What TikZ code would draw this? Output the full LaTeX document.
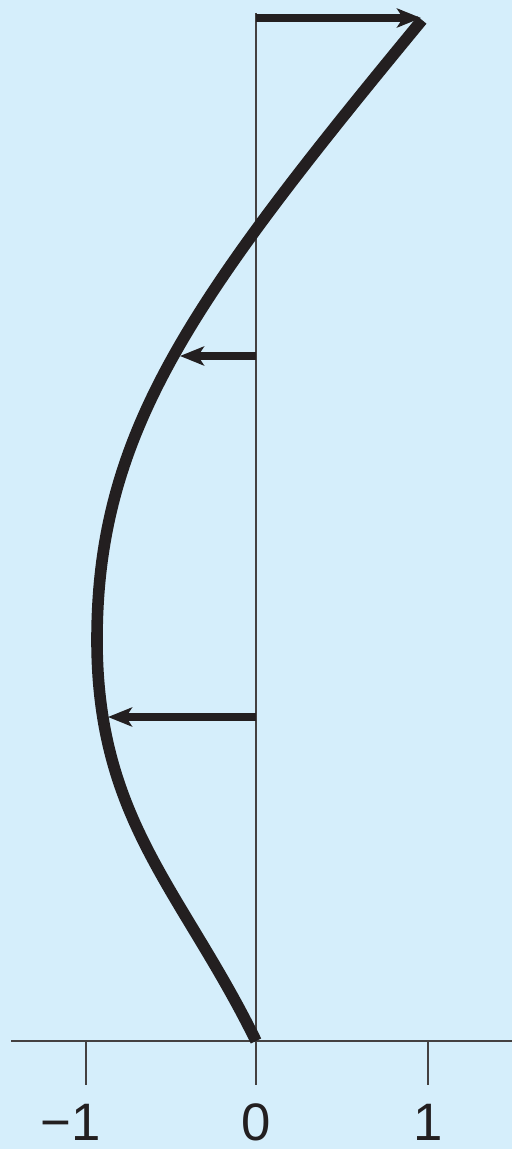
\documentclass[tikz,border=0pt]{standalone}
\usepackage{fontspec}
\setmainfont{Liberation Sans}
\usepackage{xcolor}
\usepackage{tikz}
\usetikzlibrary{arrows.meta}
\definecolor{modebg}{RGB}{213,238,251}
\definecolor{modeink}{RGB}{35,31,32}

\begin{document}
\begin{tikzpicture}[x=0.02cm, y=-0.02cm,
  axisline/.style={line width=1.1pt, color=modeink!85},
  vec/.style={line width=4.6pt, color=modeink, -{Stealth[length=0.48cm, width=0.38cm, inset=0.12cm]}},
  ticklabel/.style={anchor=base, inner sep=0pt, font=\fontsize{30}{36}\selectfont, color=modeink}]
\fill[modebg] (0,0) rectangle (512,1149);
\useasboundingbox (0,0) rectangle (512,1149);
% axes
\coordinate (base) at (256,1041);
\coordinate (top) at (256,13);
\draw[axisline] (top) -- (base);
\draw[axisline] (11,1041) -- (512,1041);
\foreach \t/\lab in {86/{\llap{−}1}, 256/0, 428/1} {
  \draw[axisline] (\t,1041) -- (\t,1085);
  \node[ticklabel] at (\t,1140) {\lab};
}
% mode shape
\coordinate (dip) at (97,640);
\coordinate (tip) at (422,20);
\draw[line width=6.6pt, color=modeink]
  (base) .. controls (182.5,891) and (97,821) .. (dip)
         .. controls (97,432) and (191,300) .. (tip);
% amplitudes
\coordinate (a0) at (256,18);
\coordinate (b0) at (421,18);
\coordinate (a1) at (256,356);
\coordinate (b1) at (180,356);
\coordinate (a2) at (256,717);
\coordinate (b2) at (108,717);
\draw[vec] (a0) -- (b0);
\draw[vec] (a1) -- (b1);
\draw[vec] (a2) -- (b2);
\end{tikzpicture}
\end{document}
